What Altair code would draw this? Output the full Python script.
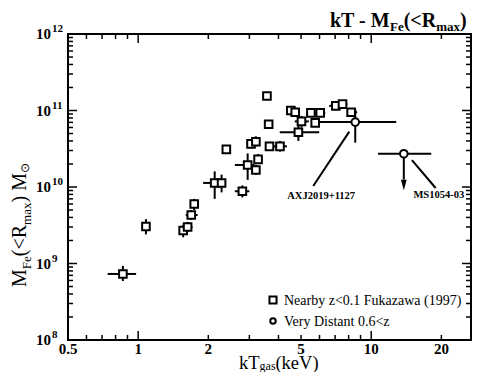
import altair as alt
import pandas as pd

SERIF = "Liberation Serif"

# ---------------- data ----------------
# Nearby clusters z<0.1 (Fukazawa 1997): kT (keV), M_Fe (M_sun), error bars (None = no bar)
near_kT = [0.86, 1.08, 1.56, 1.63, 1.69, 1.74, 2.13, 2.28, 2.39, 2.80, 2.95, 3.05, 3.20, 3.27, 3.20,
           3.57, 3.63, 3.66, 4.06, 4.52, 4.72, 4.87, 5.02, 5.51, 6.04, 5.75, 7.05, 7.53, 8.20]
near_M = [7.3e8, 3.05e9, 2.7e9, 3.0e9, 4.3e9, 6.0e9, 1.13e10, 1.13e10, 3.1e10, 8.8e9, 1.94e10, 3.66e10, 3.9e10, 2.3e10, 1.67e10,
          1.55e11, 6.6e10, 3.4e10, 3.4e10, 1.0e11, 9.5e10, 5.2e10, 7.2e10, 9.3e10, 9.3e10, 6.9e10, 1.15e11, 1.21e11, 9.5e10]
near_kT_lo = [0.74, None, 1.50, 1.56, 1.60, None, 1.90, None, None, 2.60, 2.60, None, None, None, None,
              None, None, None, 3.80, None, None, 4.05, 4.70, None, 5.75, None, 6.60, 7.25, 7.90]
near_kT_hi = [0.98, None, 1.62, 1.71, 1.80, None, 2.30, None, None, 3.00, 3.15, None, None, None, None,
              None, None, None, 4.35, None, None, 5.98, 5.40, None, 6.35, None, 7.30, 7.90, 8.70]
near_M_lo = [5.9e8, 2.4e9, 2.2e9, 2.6e9, 3.7e9, 5.0e9, 7.0e9, 8.5e9, None, 7.3e9, 1.24e10, 3.2e10, 3.4e10, 2.0e10, 1.45e10,
             None, None, None, 2.9e10, None, None, 4.0e10, 6.0e10, None, 8.3e10, None, None, 1.07e11, 8.5e10]
near_M_hi = [9.3e8, 3.8e9, 3.2e9, 3.5e9, 5.0e9, 7.0e9, 1.6e10, 1.45e10, None, 1.05e10, 2.75e10, 4.1e10, 4.6e10, 2.7e10, 1.95e10,
             None, None, None, 4.0e10, None, None, 6.6e10, 8.5e10, None, 1.05e11, None, None, 1.36e11, 1.07e11]

# Very distant clusters 0.6<z
far_names = ["AXJ2019+1127", "MS1054-03"]
far_kT = [8.54, 13.8]
far_M = [7.05e10, 2.72e10]
far_kT_lo = [5.98, 10.7]
far_kT_hi = [12.8, 18.1]
far_M_lo = [3.8e10, None]
far_M_hi = [1.05e11, None]

# upper limit arrow (MS1054-03)
arrow_kT = [13.8]
arrow_from = [2.72e10]
arrow_to = [1.25e10]
arrow_head = [1.06e10]

# annotation leader lines and label anchors
lead_x1 = [5.64, 14.95]
lead_y1 = [1.03e10, 2.25e10]
lead_x2 = [8.05, 18.9]
lead_y2 = [5.3e10, 9.7e9]
label_x = [6.1, 19.5]
label_y = [7.65e9, 7.8e9]

legend_labels = ["Nearby z<0.1 Fukazawa (1997)", "Very Distant 0.6<z"]
legend_shapes = ["square", "circle"]

x_tick_values = [0.5, 1, 2, 5, 10, 20]
x_tick_labels = ["0.5", "1", "2", "5", "10", "20"]
x_major_ticks = [1, 10]
x_minor_ticks = [0.6, 0.7, 0.8, 0.9, 2, 3, 4, 5, 6, 7, 8, 9, 20]
y_tick_values = [1e8, 1e9, 1e10, 1e11, 1e12]
y_tick_exps = ["8", "9", "10", "11", "12"]
y_minor_ticks = [k * 10.0 ** d for d in range(8, 12) for k in range(2, 10)]

W, H = 403, 306
xs = alt.Scale(type="log", domain=[0.5, 26.8], nice=False)
ys = alt.Scale(type="log", domain=[1e8, 1e12], nice=False)
shape_scale = alt.Scale(domain=legend_labels, range=legend_shapes)

# ---------------- tables ----------------
groups = [legend_labels[0]] * len(near_kT) + [legend_labels[1]] * len(far_kT)
pts = pd.DataFrame({"kT": near_kT + far_kT, "M": near_M + far_M, "group": groups})

all_kT = near_kT + far_kT
all_M = near_M + far_M
hx = pd.DataFrame([dict(M=m, lo=a, hi=b) for m, a, b in
                   zip(all_M, near_kT_lo + far_kT_lo, near_kT_hi + far_kT_hi) if a is not None])
vy = pd.DataFrame([dict(kT=k, lo=a, hi=b) for k, a, b in
                   zip(all_kT, near_M_lo + far_M_lo, near_M_hi + far_M_hi) if a is not None])

X = lambda f: alt.X(f, scale=xs, axis=None)
Y = lambda f: alt.Y(f, scale=ys, axis=None)

layers = []

# error bars
layers.append(alt.Chart(hx).mark_rule(color="black", strokeWidth=2).encode(
    x=X("lo:Q"), x2="hi:Q", y=Y("M:Q")))
layers.append(alt.Chart(vy).mark_rule(color="black", strokeWidth=2).encode(
    x=X("kT:Q"), y=Y("lo:Q"), y2="hi:Q"))

# upper-limit arrow
arr = pd.DataFrame({"kT": arrow_kT, "a": arrow_from, "b": arrow_to, "h": arrow_head})
layers.append(alt.Chart(arr).mark_rule(color="black", strokeWidth=2).encode(
    x=X("kT:Q"), y=Y("a:Q"), y2="b:Q"))
layers.append(alt.Chart(arr).mark_point(shape="M-0.55,-1L0.55,-1L0,1Z", filled=True, color="black",
                                        size=110, opacity=1).encode(
    x=X("kT:Q"), y=Y("h:Q")))

# leader lines
lead = pd.DataFrame({"x1": lead_x1, "y1": lead_y1, "x2": lead_x2, "y2": lead_y2})
layers.append(alt.Chart(lead).mark_rule(color="black", strokeWidth=2).encode(
    x=X("x1:Q"), x2="x2:Q", y=Y("y1:Q"), y2="y2:Q"))

# points
layers.append(alt.Chart(pts).mark_point(filled=True, fill="white", stroke="black", strokeWidth=2,
                                         size=58, opacity=1).encode(
    x=X("kT:Q"), y=Y("M:Q"),
    shape=alt.Shape("group:N", scale=shape_scale, legend=None)))

# cluster labels
lab = pd.DataFrame({"x": label_x, "y": label_y, "t": far_names})
layers.append(alt.Chart(lab).mark_text(font=SERIF, fontSize=10.5, fontWeight="bold", color="black",
                                       align="center", baseline="middle").encode(
    x=X("x:Q"), y=Y("y:Q"), text="t:N"))

# legend (drawn in the plot's lower right)
for i, (lbl, shp) in enumerate(zip(legend_labels, legend_shapes)):
    d = pd.DataFrame({"group": [lbl]})
    ly = 266 + 21 * i
    layers.append(alt.Chart(d).mark_point(filled=True, fill="white", stroke="black", strokeWidth=2,
                                          size=50 if shp == "square" else 30, opacity=1).encode(
        x=alt.value(205), y=alt.value(ly),
        shape=alt.Shape("group:N", scale=shape_scale, legend=None)))
    layers.append(alt.Chart(d).mark_text(font=SERIF, fontSize=14, color="black", align="left",
                                         baseline="alphabetic").encode(
        x=alt.value(216), y=alt.value(ly + 5), text="group:N"))

# inward ticks on all four sides
def xticks(vals, ln):
    d = pd.DataFrame({"v": vals})
    b = alt.Chart(d).mark_rule(color="black", strokeWidth=1.5).encode(
        x=X("v:Q"), y=alt.value(H), y2=alt.value(H - ln))
    t = alt.Chart(d).mark_rule(color="black", strokeWidth=1.5).encode(
        x=X("v:Q"), y=alt.value(0), y2=alt.value(ln))
    return [b, t]

def yticks(vals, ln):
    d = pd.DataFrame({"v": vals})
    l = alt.Chart(d).mark_rule(color="black", strokeWidth=1.5).encode(
        y=Y("v:Q"), x=alt.value(0), x2=alt.value(ln))
    r = alt.Chart(d).mark_rule(color="black", strokeWidth=1.5).encode(
        y=Y("v:Q"), x=alt.value(W), x2=alt.value(W - ln))
    return [l, r]

layers += xticks(x_major_ticks, 9) + xticks(x_minor_ticks, 5)
layers += yticks(y_tick_values, 9) + yticks(y_minor_ticks, 5)

# tick labels
xl = pd.DataFrame({"v": x_tick_values, "t": x_tick_labels})
layers.append(alt.Chart(xl).mark_text(font=SERIF, fontSize=15, fontWeight="bold", color="black",
                                      align="center", baseline="alphabetic").encode(
    x=X("v:Q"), y=alt.value(H + 14), text="t:N"))
yl = pd.DataFrame({"v": y_tick_values, "e": y_tick_exps, "b": ["10"] * len(y_tick_values)})
layers.append(alt.Chart(yl).mark_text(font=SERIF, fontSize=15, fontWeight="bold", color="black",
                                      align="left", baseline="alphabetic", dy=5).encode(
    y=Y("v:Q"), x=alt.value(-32), text="b:N"))
layers.append(alt.Chart(yl).mark_text(font=SERIF, fontSize=11, fontWeight="bold", color="black",
                                      align="left", baseline="alphabetic", dy=-2).encode(
    y=Y("v:Q"), x=alt.value(-16), text="e:N"))

# composed texts (title and axis titles with subscripts)
def txt(s, x, y, size, dx=0, dy=0, weight="normal", angle=0):
    return alt.Chart(pd.DataFrame({"t": [s]})).mark_text(
        font=SERIF, fontSize=size, fontWeight=weight, align="left", baseline="alphabetic",
        dx=dx, dy=dy, angle=angle, color="black").encode(
        x=alt.value(x), y=alt.value(y), text="t:N")

# title: kT - M_Fe(<R_max)
tx, ty = 262, -7
layers += [txt("kT - M", tx, ty, 20, weight="bold"),
           txt("Fe", tx, ty, 13, dx=60, dy=4, weight="bold"),
           txt("(<R", tx, ty, 20, dx=73.7, weight="bold"),
           txt("max", tx, ty, 13, dx=106.2, dy=4, weight="bold"),
           txt(")", tx, ty, 20, dx=130, weight="bold")]

# x title: kT_gas(keV)
gx, gy = 171, H + 28.5
layers += [txt("kT", gx, gy, 18.5),
           txt("gas", gx, gy, 12, dx=20.6, dy=1.5),
           txt("(keV)", gx, gy, 18.5, dx=36.4)]

# y title: M_Fe(<R_max) M_sun (rotated)
vx, vy0 = -42, 253
layers += [txt("M", vx, vy0, 20, angle=270),
           txt("Fe", vx, vy0, 13, dx=17.8, dy=5, angle=270),
           txt("(<R", vx, vy0, 20, dx=30.8, angle=270),
           txt("max", vx, vy0, 13, dx=62.1, dy=5, angle=270),
           txt(") M", vx, vy0, 20, dx=84.5, angle=270),
           txt("⊙", vx, vy0, 12, dx=114, dy=3, angle=270)]

chart = alt.layer(*layers).properties(
    width=W, height=H,
    autosize=alt.AutoSizeParams(type="none"),
    padding={"left": 60, "top": 26, "right": 2, "bottom": 32},
    background="white",
).configure_view(stroke="black", strokeWidth=2)

chart.save("out.html", embed_options={"renderer": "svg", "actions": False})
